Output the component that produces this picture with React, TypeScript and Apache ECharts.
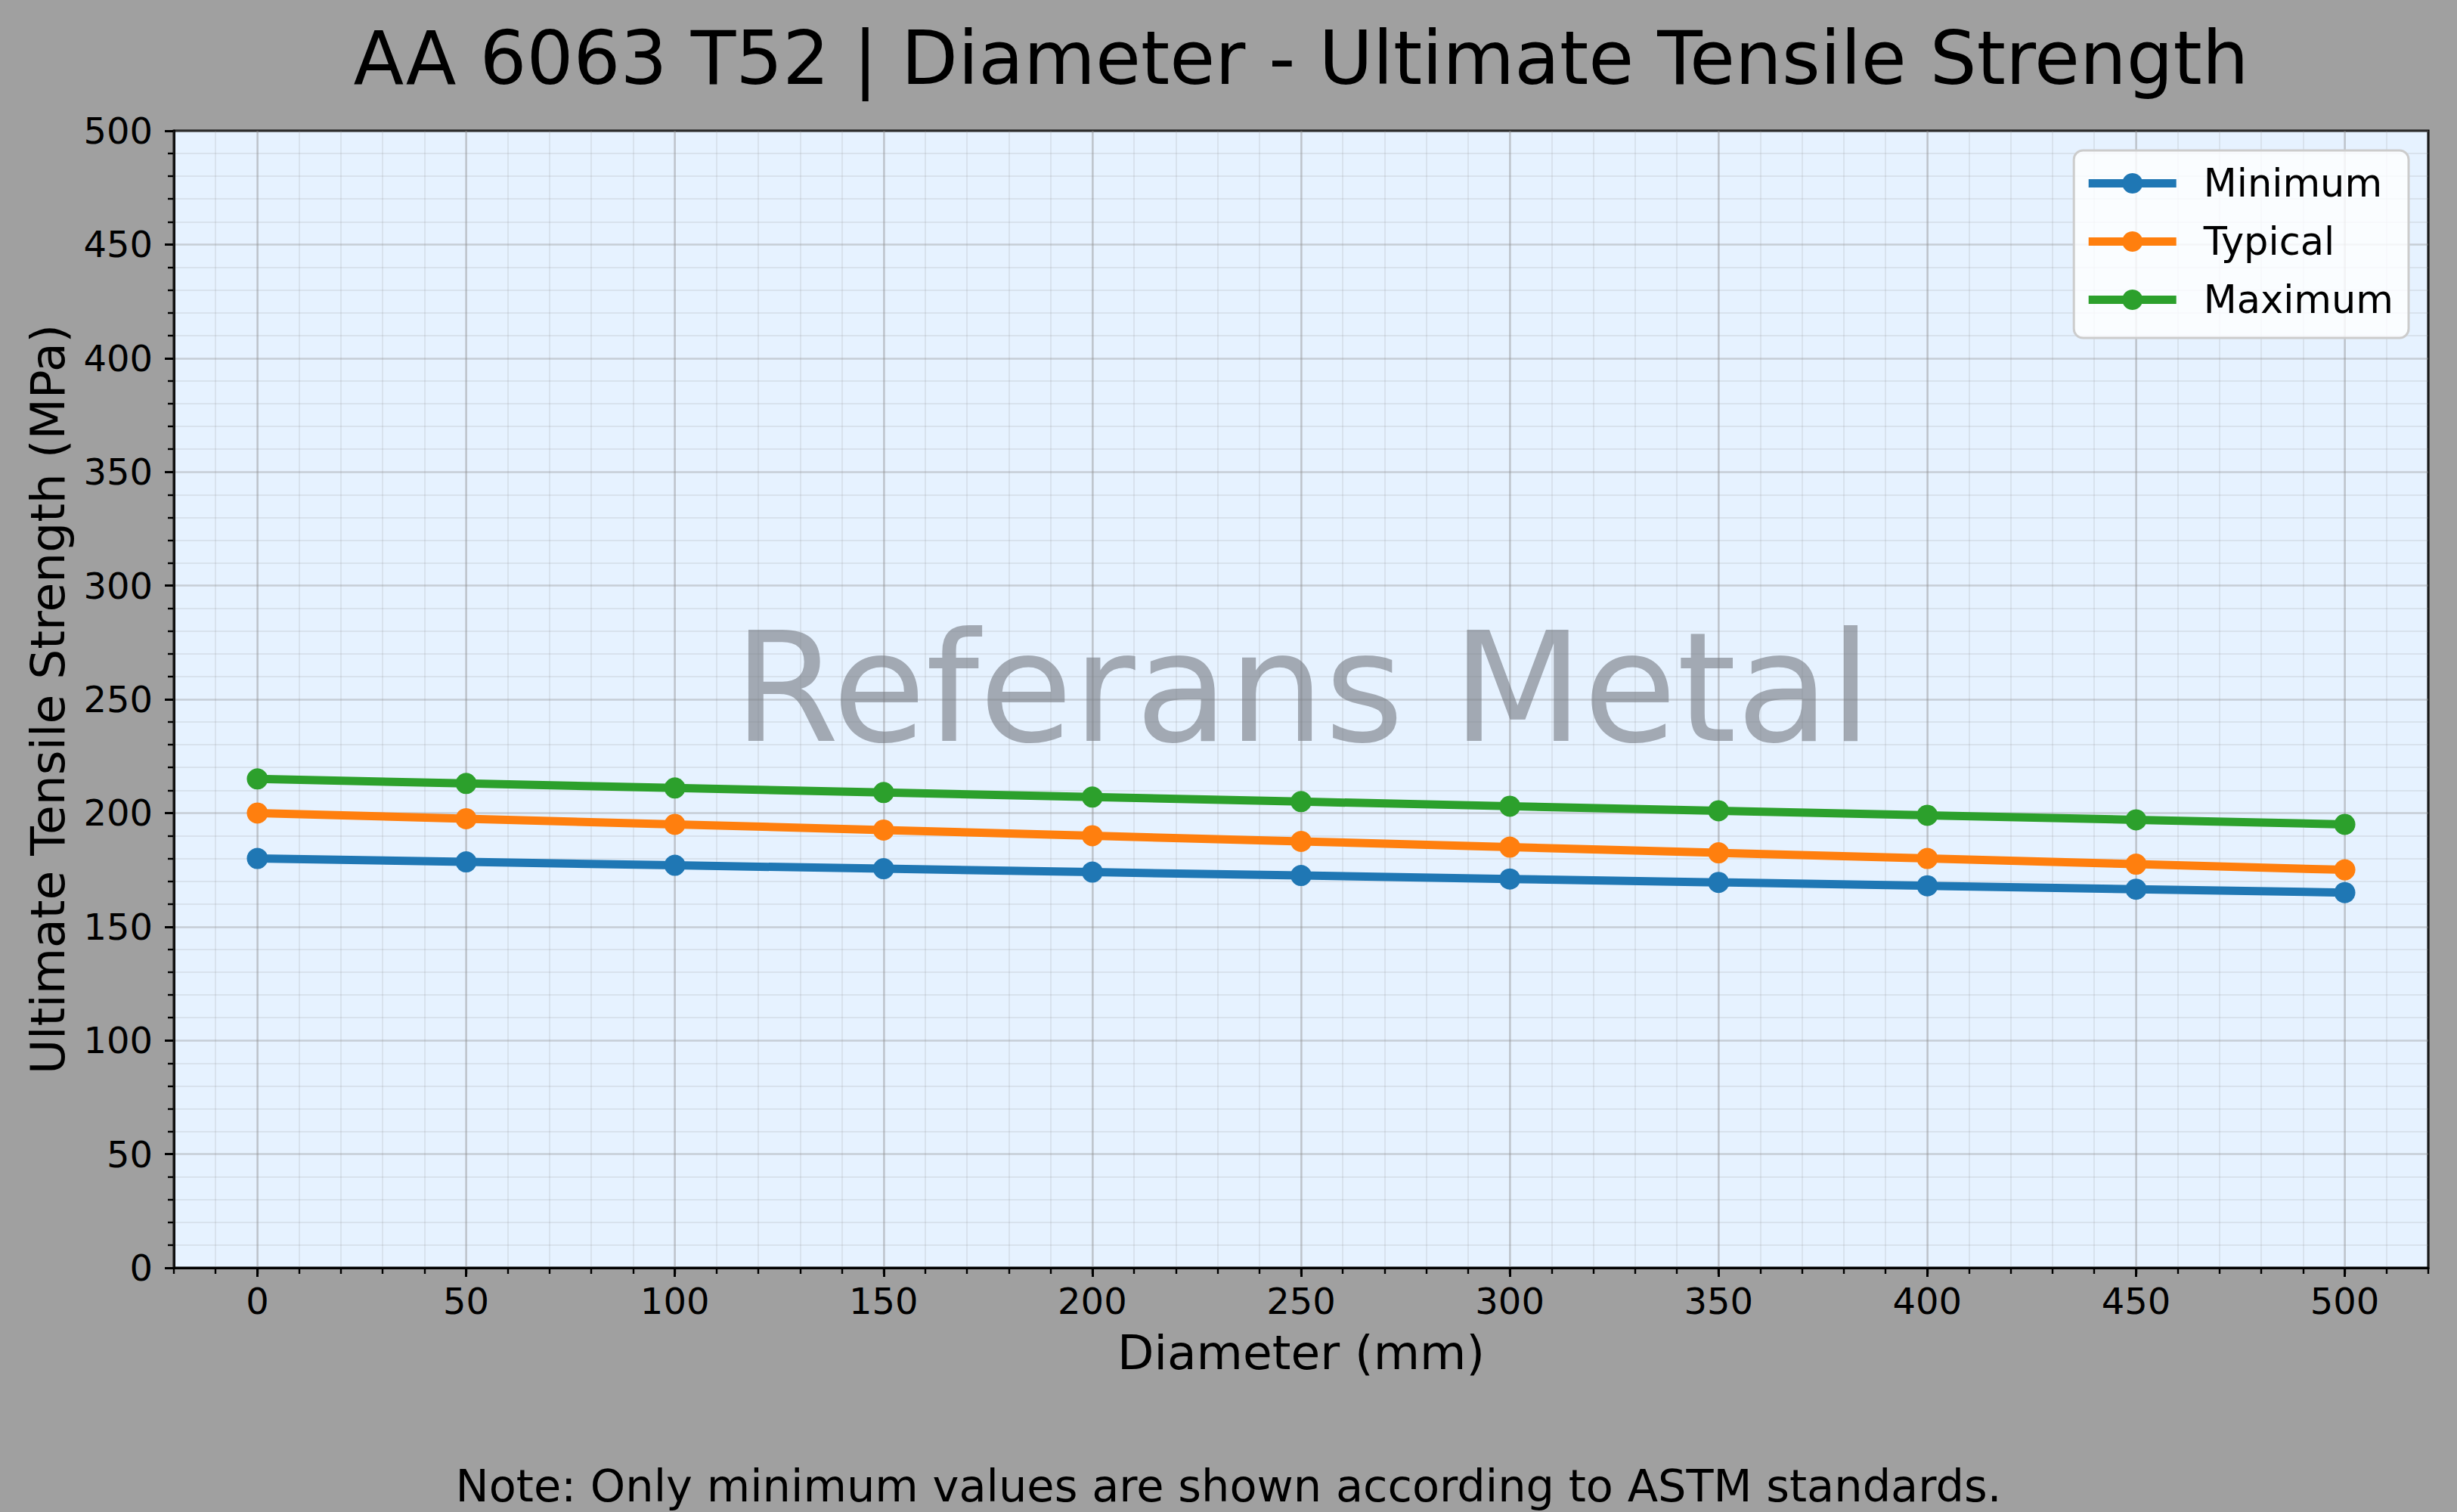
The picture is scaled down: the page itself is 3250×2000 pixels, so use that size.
import * as echarts from "echarts";
import { useEffect, useRef } from "react";

const diameters = [0, 50, 100, 150, 200, 250, 300, 350, 400, 450, 500];
const minimumUts = [180, 178.5, 177, 175.5, 174, 172.5, 171, 169.5, 168, 166.5, 165];
const typicalUts = [200, 197.5, 195, 192.5, 190, 187.5, 185, 182.5, 180, 177.5, 175];
const maximumUts = [215, 213, 211, 209, 207, 205, 203, 201, 199, 197, 195];
const xTickValues = [0, 50, 100, 150, 200, 250, 300, 350, 400, 450, 500];

const FONT = "DejaVu Sans";
const MAJOR_GRID = "rgba(140,140,140,0.36)";
const MINOR_GRID = "rgba(140,140,140,0.16)";

export default function App(): React.ReactElement {
  const ref = useRef<HTMLDivElement | null>(null);

  useEffect(() => {
    const el = ref.current;
    if (el === null) return;
    const chart = echarts.init(el, null, { renderer: "svg" });

    const toPairs = (vals: number[]) => diameters.map((d, i) => [d, vals[i]]);
    const lineSeries = (name: string, vals: number[], color: string) => ({
      name,
      type: "line",
      xAxisIndex: 0,
      data: toPairs(vals),
      symbol: "circle",
      symbolSize: 28,
      lineStyle: { width: 11, color },
      itemStyle: { color },
      z: 5,
    });

    chart.setOption({
      animation: false,
      backgroundColor: "#a0a0a0",
      textStyle: { fontFamily: FONT },
      grid: {
        left: 230,
        right: 38,
        top: 173,
        bottom: 323,
        show: true,
        backgroundColor: "#e6f2ff",
        borderColor: "#000000",
        borderWidth: 3,
      },
      legend: {
        orient: "vertical",
        right: 64,
        top: 199,
        padding: [18, 20, 25, 14],
        backgroundColor: "rgba(255,255,255,0.8)",
        borderColor: "#cccccc",
        borderWidth: 3,
        borderRadius: 12,
        itemWidth: 116,
        itemHeight: 34,
        itemGap: 26,
        lineStyle: { width: 11 },
        textStyle: {
          fontFamily: FONT,
          fontSize: 51,
          color: "#000000",
          lineHeight: 50,
          padding: [0, 0, 0, 31],
        },
        data: ["Minimum", "Typical", "Maximum"],
      },
      xAxis: [
        {
          type: "value",
          position: "bottom",
          min: -20,
          max: 520,
          interval: 10,
          name: "Diameter (mm)",
          nameLocation: "middle",
          nameGap: 81,
          nameTextStyle: { fontFamily: FONT, fontSize: 63, color: "#000000" },
          axisLine: { show: true, onZero: false, lineStyle: { color: "#000000", width: 3 } },
          axisTick: {
            show: true,
            length: 12,
            customValues: xTickValues,
            lineStyle: { color: "#000000", width: 3 },
          },
          axisLabel: {
            customValues: xTickValues,
            margin: 20,
            fontFamily: FONT,
            fontSize: 48,
            color: "#000000",
          },
          splitLine: { show: true, lineStyle: { color: MAJOR_GRID, width: 2.6 } },
          z: 3,
        },
        {
          type: "value",
          position: "bottom",
          min: -20,
          max: 520,
          interval: 10,
          axisLine: { show: false, onZero: false },
          axisTick: { show: true, length: 8, lineStyle: { color: "#000000", width: 2.4 } },
          axisLabel: { show: false },
          splitLine: { show: true, lineStyle: { color: MINOR_GRID, width: 2 } },
          z: 2,
        },
      ],
      yAxis: {
        type: "value",
        min: 0,
        max: 500,
        interval: 50,
        name: "Ultimate Tensile Strength (MPa)",
        nameLocation: "middle",
        nameGap: 135,
        nameTextStyle: { fontFamily: FONT, fontSize: 63, color: "#000000" },
        axisLine: { show: true, onZero: false, lineStyle: { color: "#000000", width: 3 } },
        axisTick: { show: true, length: 12, lineStyle: { color: "#000000", width: 3 } },
        minorTick: {
          show: true,
          splitNumber: 5,
          length: 8,
          lineStyle: { color: "#000000", width: 2.4 },
        },
        axisLabel: { margin: 28, fontFamily: FONT, fontSize: 48, color: "#000000" },
        splitLine: { show: true, lineStyle: { color: MAJOR_GRID, width: 2.6 } },
        minorSplitLine: { show: true, lineStyle: { color: MINOR_GRID, width: 2 } },
      },
      graphic: [
        {
          type: "text",
          x: 1721,
          y: 77,
          style: {
            text: "AA 6063 T52 | Diameter - Ultimate Tensile Strength",
            fontFamily: FONT,
            fontSize: 97.5,
            fill: "#000000",
            align: "center",
            verticalAlign: "middle",
          },
        },
        {
          type: "text",
          x: 1723,
          y: 910,
          z: 10,
          style: {
            text: "Referans Metal",
            fontFamily: FONT,
            fontSize: 201,
            fill: "rgba(120,124,132,0.62)",
            align: "center",
            verticalAlign: "middle",
          },
        },
        {
          type: "text",
          x: 1625,
          y: 1965,
          style: {
            text: "Note: Only minimum values are shown according to ASTM standards.",
            fontFamily: FONT,
            fontSize: 59,
            fill: "#000000",
            align: "center",
            verticalAlign: "middle",
          },
        },
      ],
      series: [
        lineSeries("Minimum", minimumUts, "#1f77b4"),
        lineSeries("Typical", typicalUts, "#ff7f0e"),
        lineSeries("Maximum", maximumUts, "#2ca02c"),
      ],
    });

    return () => {
      chart.dispose();
    };
  }, []);

  return (
    <div
      ref={ref}
      style={{ position: "fixed", left: 0, top: 0, width: 3250, height: 2000 }}
    />
  );
}
